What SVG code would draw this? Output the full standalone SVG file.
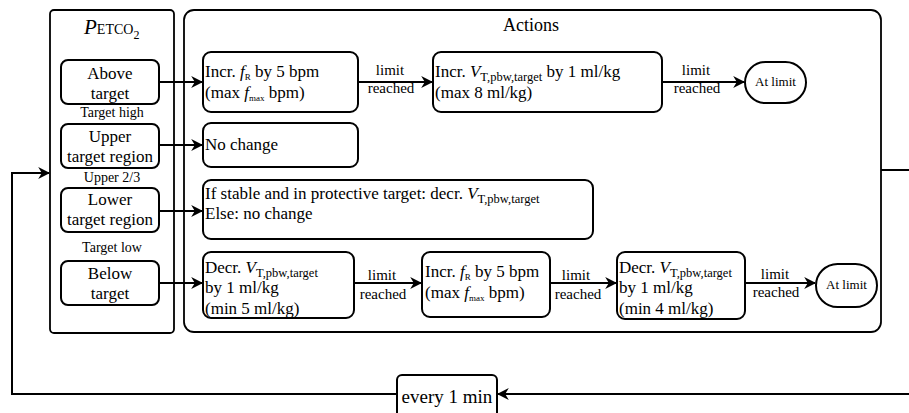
<svg xmlns="http://www.w3.org/2000/svg" width="909" height="413" viewBox="0 0 909 413">
<defs>
<style>
.t{font-size:17px}
.s{font-size:15px}
.l{font-size:14px}
.a{font-size:13px}
.c{text-anchor:middle}
.vs{font-size:12.5px}
.fs{font-size:9px}
.box{fill:#fff;stroke:#000;stroke-width:2}
.panel{fill:none;stroke:#000;stroke-width:1.8}
.ln{fill:none;stroke:#000;stroke-width:2}
</style>
<marker id="ah" viewBox="0 0 10 10" refX="9" refY="5" markerWidth="6" markerHeight="6" orient="auto" markerUnits="strokeWidth">
<path d="M0,0 L10,5 L0,10 L3,5 Z" fill="#000"/>
</marker>
</defs>
<rect width="909" height="413" fill="#fff"/>

<g id="panel-petco2">
<rect class="panel" x="50" y="10" width="124" height="323" rx="4"/>
<text x="84" y="34" font-family="Liberation Serif"><tspan font-size="21" font-style="italic">P</tspan><tspan font-size="14">ETCO</tspan><tspan font-size="12" dy="5">2</tspan></text>
<text x="112" y="117" class="l c" font-family="Liberation Serif">Target high</text>
<text x="112" y="182" class="l c" font-family="Liberation Serif">Upper 2/3</text>
<text x="112" y="252" class="l c" font-family="Liberation Serif">Target low</text>
</g>
<g id="panel-actions">
<rect class="panel" x="184" y="10" width="697" height="322" rx="10"/>
<text x="531" y="31" class="c" font-size="18" font-family="Liberation Serif">Actions</text>
</g>

<g id="connectors">
<path class="ln" d="M159,82 H202" marker-end="url(#ah)"/>
<path class="ln" d="M159,145 H202" marker-end="url(#ah)"/>
<path class="ln" d="M159,211 H202" marker-end="url(#ah)"/>
<path class="ln" d="M159,283 H202" marker-end="url(#ah)"/>
<path class="ln" d="M358,82 H432" marker-end="url(#ah)"/>
<path class="ln" d="M662,82 H744" marker-end="url(#ah)"/>
<path class="ln" d="M354,283 H421" marker-end="url(#ah)"/>
<path class="ln" d="M550,283 H616" marker-end="url(#ah)"/>
<path class="ln" d="M745,283 H815" marker-end="url(#ah)"/>
<path class="ln" d="M881,170 H909"/>
<path class="ln" d="M909,394 H498" marker-end="url(#ah)"/>
<path class="ln" d="M397,394 H12 V173 H49" marker-end="url(#ah)"/>
<text x="390" y="75" class="s c" font-family="Liberation Serif">limit</text>
<text x="391" y="93" class="s c" font-family="Liberation Serif">reached</text>
<text x="696" y="75" class="s c" font-family="Liberation Serif">limit</text>
<text x="697" y="93" class="s c" font-family="Liberation Serif">reached</text>
<text x="382" y="280" class="s c" font-family="Liberation Serif">limit</text>
<text x="383" y="299" class="s c" font-family="Liberation Serif">reached</text>
<text x="576" y="280" class="s c" font-family="Liberation Serif">limit</text>
<text x="578" y="299" class="s c" font-family="Liberation Serif">reached</text>
<text x="775" y="279" class="s c" font-family="Liberation Serif">limit</text>
<text x="776" y="297" class="s c" font-family="Liberation Serif">reached</text>
</g>

<g id="above-target">
<rect class="box" x="61" y="60" width="98" height="44" rx="7"/>
<text x="110" y="79" class="t c" font-family="Liberation Serif">Above</text>
<text x="110" y="99" class="t c" font-family="Liberation Serif">target</text>
</g>
<g id="upper-target-region">
<rect class="box" x="61" y="124" width="98" height="44" rx="7"/>
<text x="110" y="142" class="t c" font-family="Liberation Serif">Upper</text>
<text x="110" y="162" class="t c" font-family="Liberation Serif">target region</text>
</g>
<g id="lower-target-region">
<rect class="box" x="61" y="188" width="98" height="44" rx="7"/>
<text x="110" y="205" class="t c" font-family="Liberation Serif">Lower</text>
<text x="110" y="225" class="t c" font-family="Liberation Serif">target region</text>
</g>
<g id="below-target">
<rect class="box" x="61" y="261" width="98" height="44" rx="7"/>
<text x="110" y="279" class="t c" font-family="Liberation Serif">Below</text>
<text x="110" y="299" class="t c" font-family="Liberation Serif">target</text>
</g>

<g id="incr-fr-1">
<rect class="box" x="203" y="52" width="155" height="60" rx="8"/>
<text x="205" y="77" class="t" font-family="Liberation Serif">Incr. <tspan font-style="italic">f</tspan><tspan class="fs" dy="3">R</tspan><tspan dy="-3"> by 5 bpm</tspan></text>
<text x="205" y="98" class="t" font-family="Liberation Serif">(max <tspan font-style="italic">f</tspan><tspan class="fs" dy="3">max</tspan><tspan dy="-3"> bpm)</tspan></text>
</g>
<g id="incr-vt">
<rect class="box" x="433" y="52" width="229" height="60" rx="8"/>
<text x="435" y="77" class="t" font-family="Liberation Serif">Incr. <tspan font-style="italic">V</tspan><tspan class="vs" dy="4">T,pbw,target</tspan><tspan dy="-4"> by 1 ml/kg</tspan></text>
<text x="435" y="98" class="t" font-family="Liberation Serif">(max 8 ml/kg)</text>
</g>
<g id="at-limit-1">
<rect class="box" x="745" y="62" width="61" height="41" rx="20.5"/>
<text x="775.5" y="86" class="a c" font-family="Liberation Serif">At limit</text>
</g>
<g id="no-change">
<rect class="box" x="203" y="123" width="155" height="44" rx="8"/>
<text x="205" y="150" class="t" font-family="Liberation Serif">No change</text>
</g>
<g id="if-stable">
<rect class="box" x="203" y="180" width="390" height="59" rx="8"/>
<text x="205" y="199" class="t" font-family="Liberation Serif">If stable and in protective target: decr. <tspan font-style="italic">V</tspan><tspan class="vs" dy="4">T,pbw,target</tspan></text>
<text x="205" y="219" class="t" font-family="Liberation Serif">Else: no change</text>
</g>
<g id="decr-vt-1">
<rect class="box" x="203" y="252" width="151" height="66" rx="8"/>
<text x="205" y="273" class="t" font-family="Liberation Serif">Decr. <tspan font-style="italic">V</tspan><tspan class="vs" dy="4">T,pbw,target</tspan></text>
<text x="205" y="293" class="t" font-family="Liberation Serif">by 1 ml/kg</text>
<text x="205" y="314" class="t" font-family="Liberation Serif">(min 5 ml/kg)</text>
</g>
<g id="incr-fr-2">
<rect class="box" x="422" y="252" width="128" height="65" rx="8"/>
<text x="425" y="277" class="t" font-family="Liberation Serif">Incr. <tspan font-style="italic">f</tspan><tspan class="fs" dy="3">R</tspan><tspan dy="-3"> by 5 bpm</tspan></text>
<text x="425" y="298" class="t" font-family="Liberation Serif">(max <tspan font-style="italic">f</tspan><tspan class="fs" dy="3">max</tspan><tspan dy="-3"> bpm)</tspan></text>
</g>
<g id="decr-vt-2">
<rect class="box" x="617" y="252" width="128" height="67" rx="8"/>
<text x="619" y="273" class="t" font-family="Liberation Serif">Decr. <tspan font-style="italic">V</tspan><tspan class="vs" dy="4">T,pbw,target</tspan></text>
<text x="619" y="293" class="t" font-family="Liberation Serif">by 1 ml/kg</text>
<text x="619" y="314" class="t" font-family="Liberation Serif">(min 4 ml/kg)</text>
</g>
<g id="at-limit-2">
<rect class="box" x="816" y="264" width="61" height="43" rx="21.5"/>
<text x="846.5" y="289" class="a c" font-family="Liberation Serif">At limit</text>
</g>
<g id="every-1-min">
<rect class="box" x="397" y="375" width="100" height="45" rx="5"/>
<text x="447" y="403" class="c" font-size="19" font-family="Liberation Serif">every 1 min</text>
</g>
</svg>
